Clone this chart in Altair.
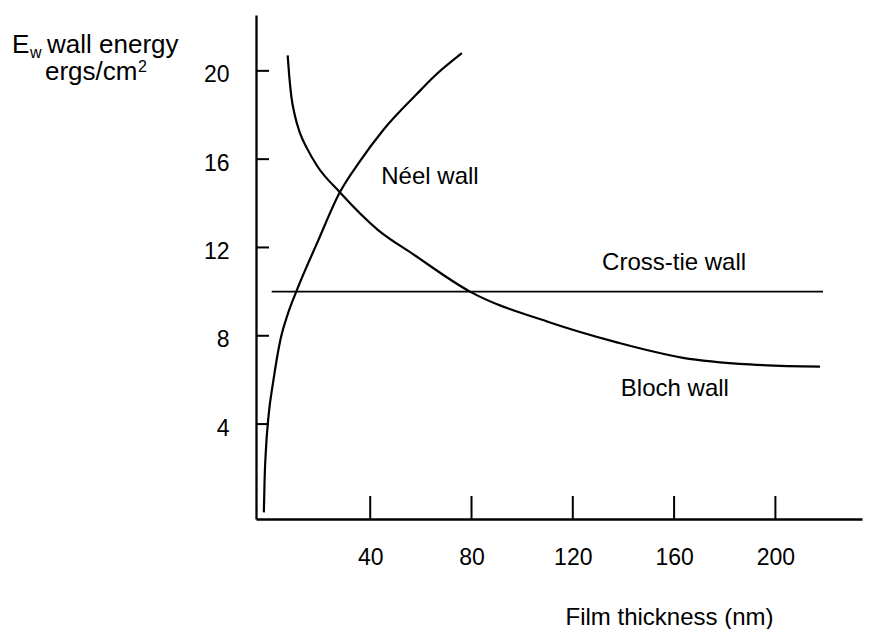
import altair as alt
import pandas as pd

# ---- data ----
neel_x = [-2.0, -1.7, -1.1, -0.3, 1.8, 4.5, 7.5, 10.8, 19.4, 28.0, 35.9, 45.0, 58.4, 64.8, 76.2]
neel_y = [0.0, 1.5, 3.0, 4.2, 6.0, 7.8, 9.0, 10.0, 12.3, 14.5, 15.9, 17.3, 18.95, 19.7, 20.8]

bloch_x = [7.4, 8.0, 8.9, 10.2, 12.2, 15.0, 19.0, 28.0, 43.0, 56.9, 79.4, 111.0, 137.4, 163.5, 189.9, 217.6]
bloch_y = [20.7, 19.8, 18.8, 18.0, 17.2, 16.5, 15.7, 14.5, 12.8, 11.7, 10.0, 8.6, 7.7, 7.0, 6.7, 6.6]

crosstie_x = [1.1, 218.8]
crosstie_y = [10.0, 10.0]

x_ticks = [40, 80, 120, 160, 200]
y_ticks = [4, 8, 12, 16, 20]

label_text = ["Néel wall", "Cross-tie wall", "Bloch wall"]
label_x = [63.6, 160.0, 160.3]
label_y = [15.2, 11.3, 5.6]

x_title = "Film thickness (nm)"
y_title_main = "E"
y_title_sub = "w"
y_title_rest = "wall energy"
y_title_unit = "ergs/cm"
y_title_sup = "2"

# ---- layout ----
W, H = 606, 504
FONT = "Liberation Sans"
X = alt.Scale(domain=[-5.1, 234.2], nice=False, zero=False)
Y = alt.Scale(domain=[-0.3, 22.53], nice=False, zero=False)

curves = pd.DataFrame({
    "x": neel_x + bloch_x,
    "y": neel_y + bloch_y,
    "series": ["Néel"] * len(neel_x) + ["Bloch"] * len(bloch_x),
})
cross = pd.DataFrame({"x": crosstie_x, "y": crosstie_y})
labels = pd.DataFrame({"x": label_x, "y": label_y, "t": label_text})
xt = pd.DataFrame({"x": x_ticks})
yt = pd.DataFrame({"y": y_ticks})
one = pd.DataFrame({"a": [0]})

x_axis = alt.Axis(values=x_ticks, ticks=False, grid=False, labelPadding=27,
                  labelFontSize=23, labelColor="black", labelFont=FONT,
                  domainColor="black", domainWidth=2.3,
                  titleFontSize=24, titleFontWeight="normal",
                  titleFont=FONT, titleColor="black",
                  titleX=413, titleY=105, titleAlign="center",
                  titleBaseline="alphabetic")
y_axis = alt.Axis(values=y_ticks, ticks=False, grid=False, labelPadding=27,
                  labelOffset=4, labelFontSize=23, labelColor="black",
                  labelFont=FONT, domainColor="black", domainWidth=2.3)

def xenc():
    return alt.X("x:Q", scale=X, axis=x_axis, title=x_title)

def yenc():
    return alt.Y("y:Q", scale=Y, axis=y_axis, title=None)

curve_layer = alt.Chart(curves).mark_line(
    color="black", strokeWidth=2.2, interpolate="monotone"
).encode(x=xenc(), y=yenc(), detail="series:N")

cross_layer = alt.Chart(cross).mark_line(color="black", strokeWidth=1.6).encode(
    x=xenc(), y=yenc()
)

xtick_layer = alt.Chart(xt).mark_rule(color="black", strokeWidth=2).encode(
    x=xenc(), y=alt.value(H), y2=alt.value(H - 23)
)

ytick_layer = alt.Chart(yt).mark_rule(color="black", strokeWidth=2).encode(
    y=yenc(), x=alt.value(0), x2=alt.value(13)
)

label_layer = alt.Chart(labels).mark_text(
    fontSize=24, font=FONT, color="black", align="center", baseline="middle"
).encode(x=xenc(), y=yenc(), text="t:N")

def title_piece(txt, px, py, size, align="left"):
    return alt.Chart(one).mark_text(
        text=txt, fontSize=size, font=FONT, color="black",
        align=align, baseline="alphabetic"
    ).encode(x=alt.value(px), y=alt.value(py))

title_layers = [
    title_piece(y_title_main, -244, 38, 26),
    title_piece(y_title_sub, -226, 43, 16),
    title_piece(y_title_rest, -209, 38, 26),
    title_piece(y_title_unit, -211, 65, 26),
    title_piece(y_title_sup, -118, 57, 16),
]

chart = alt.layer(
    curve_layer, cross_layer, xtick_layer, ytick_layer, label_layer, *title_layers
).properties(
    width=W, height=H,
    background="white",
    autosize=alt.AutoSizeParams(type="none"),
    padding={"left": 248, "top": 7, "right": 5, "bottom": 110},
).configure_view(stroke=None)

chart.save("out.html", embed_options={"renderer": "svg", "actions": False})
